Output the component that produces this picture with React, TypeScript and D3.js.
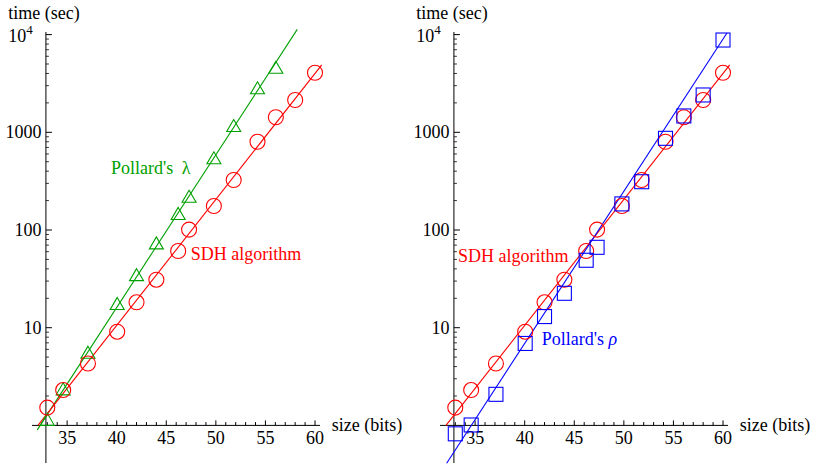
import React from "react";
import * as d3 from "d3";

// ---- data ----
const sizes = [33, 34.6, 37.1, 40.05, 42, 44, 46.2, 47.3, 49.8, 51.8, 54.2, 56.05, 58, 60];
const sdhTimes = [1.52, 2.3, 4.3, 9.1, 18.2, 31, 61, 101, 176, 325, 800, 1425, 2140, 4070];
const lambdaSizes = [33, 34.6, 37.1, 40.05, 42, 44, 46.2, 47.3, 49.8, 51.8, 54.2, 56.05];
const lambdaTimes = [1.14, 2.34, 5.55, 17.5, 34.5, 73, 146, 219, 542, 1160, 2820, 4580];
const rhoTimes = [0.82, 1.01, 2.08, 6.9, 13, 22.5, 49, 66.5, 185, 312, 868, 1470, 2410, 8800];

// fitted trend lines: [size, time] at both ends
const sdhFit: [number, number][] = [[32.06, 1.0], [60.68, 4890]];
const lambdaFit: [number, number][] = [[31.99, 0.9], [58.21, 11320]];
const rhoFit: [number, number][] = [[32.13, 0.41], [60.4, 10380]];

const xTickValues = [35, 40, 45, 50, 55, 60];
const yTickValues = [10, 100, 1000];
const xLabel = "size (bits)";
const yLabel = "time (sec)";

const RED = "#ff0000";
const GREEN = "#00a000";
const BLUE = "#0000ff";
const FONT = "Liberation Serif";
const FS = "18px";

const W = 814;
const H = 465;

const xBase = d3.scaleLinear().domain([40, 60]).range([116.7, 315]);
const yScale = d3.scaleLog().domain([1, 10000]).range([425.4, 34.6]);

type Series = {
  xs: number[];
  ts: number[];
  fitLine: [number, number][];
  color: string;
  marker: "circle" | "triangle" | "square";
};

type Note = { text: React.ReactNode; x: number; y: number; color: string };

function Marker({ kind, x, y, color }: { kind: string; x: number; y: number; color: string }) {
  if (kind === "circle") return <circle cx={x} cy={y} r={7.5} fill="none" stroke={color} strokeWidth={1.1} />;
  if (kind === "triangle")
    return (
      <path
        d={`M${x},${y - 6.5}L${x + 7},${y + 5.5}L${x - 7},${y + 5.5}Z`}
        fill="none"
        stroke={color}
        strokeWidth={1.1}
      />
    );
  return <rect x={x - 7} y={y - 7} width={14} height={14} fill="none" stroke={color} strokeWidth={1.1} />;
}

function Panel({ dx, series, notes }: { dx: number; series: Series[]; notes: Note[] }) {
  const x = (v: number) => xBase(v) + dx;
  const axisX = xBase(32.86) + dx;
  const axisY = yScale(1);
  const minorX = d3.range(33, 61);
  const minorY: number[] = [];
  for (let d = 0; d < 4; d++) for (let k = 2; k <= 9; k++) minorY.push(k * Math.pow(10, d));
  const line = d3
    .line<[number, number]>()
    .x((d) => x(d[0]))
    .y((d) => yScale(d[1]));
  return (
    <g fontFamily={FONT} fontSize={FS}>
      {/* axes */}
      <line x1={dx + 32} x2={dx + 320} y1={axisY} y2={axisY} stroke="#000" strokeWidth={1} />
      <line x1={axisX} x2={axisX} y1={32} y2={463} stroke="#000" strokeWidth={1} />
      {minorX.map((v) => (
        <line key={"mx" + v} x1={x(v)} x2={x(v)} y1={axisY} y2={axisY - (v % 5 === 0 ? 5 : 3.3)} stroke="#000" strokeWidth={1} />
      ))}
      {minorY.map((v) => (
        <line key={"my" + v} x1={axisX} x2={axisX + 3} y1={yScale(v)} y2={yScale(v)} stroke="#000" strokeWidth={0.8} />
      ))}
      {[...yTickValues, 10000].map((v) => (
        <line key={"My" + v} x1={axisX} x2={axisX + 6} y1={yScale(v)} y2={yScale(v)} stroke="#000" strokeWidth={1} />
      ))}
      {xTickValues.map((v) => (
        <text key={"xl" + v} x={x(v)} y={444} textAnchor="middle">
          {v}
        </text>
      ))}
      {yTickValues.map((v) => (
        <text key={"yl" + v} x={axisX - 4.5} y={yScale(v) + 6} textAnchor="end">
          {v}
        </text>
      ))}
      <text x={dx + 8.3} y={41.7}>
        10
        <tspan dy="-8" fontSize="13px">
          4
        </tspan>
      </text>
      <text x={dx + 8.3} y={19}>
        {yLabel}
      </text>
      <text x={dx + 331.7} y={430.5}>
        {xLabel}
      </text>
      {series.map((s, i) => (
        <path key={"l" + i} d={line(s.fitLine)!} stroke={s.color} strokeWidth={1.1} fill="none" />
      ))}
      {series.map((s, i) =>
        s.xs.map((b, j) => <Marker key={`m${i}-${j}`} kind={s.marker} x={x(b)} y={yScale(s.ts[j])} color={s.color} />)
      )}
      {notes.map((n, i) => (
        <text key={"n" + i} x={n.x + dx} y={n.y} fill={n.color}>
          {n.text}
        </text>
      ))}
    </g>
  );
}

export default function App() {
  return (
    <svg width={W} height={H} style={{ position: "absolute", left: 0, top: 0, background: "#fff" }}>
      <rect width={W} height={H} fill="#fff" />
      <Panel
        dx={0}
        series={[
          { xs: lambdaSizes, ts: lambdaTimes, fitLine: lambdaFit, color: GREEN, marker: "triangle" },
          { xs: sizes, ts: sdhTimes, fitLine: sdhFit, color: RED, marker: "circle" },
        ]}
        notes={[
          {
            text: (
              <>
                Pollard's <tspan dx="4">λ</tspan>
              </>
            ),
            x: 111,
            y: 174,
            color: GREEN,
          },
          { text: "SDH algorithm", x: 190.7, y: 260, color: RED },
        ]}
      />
      <Panel
        dx={408}
        series={[
          { xs: sizes, ts: sdhTimes, fitLine: sdhFit, color: RED, marker: "circle" },
          { xs: sizes, ts: rhoTimes, fitLine: rhoFit, color: BLUE, marker: "square" },
        ]}
        notes={[
          { text: "SDH algorithm", x: 50, y: 262, color: RED },
          {
            text: (
              <>
                Pollard's <tspan fontStyle="italic">ρ</tspan>
              </>
            ),
            x: 133.7,
            y: 345,
            color: BLUE,
          },
        ]}
      />
    </svg>
  );
}
